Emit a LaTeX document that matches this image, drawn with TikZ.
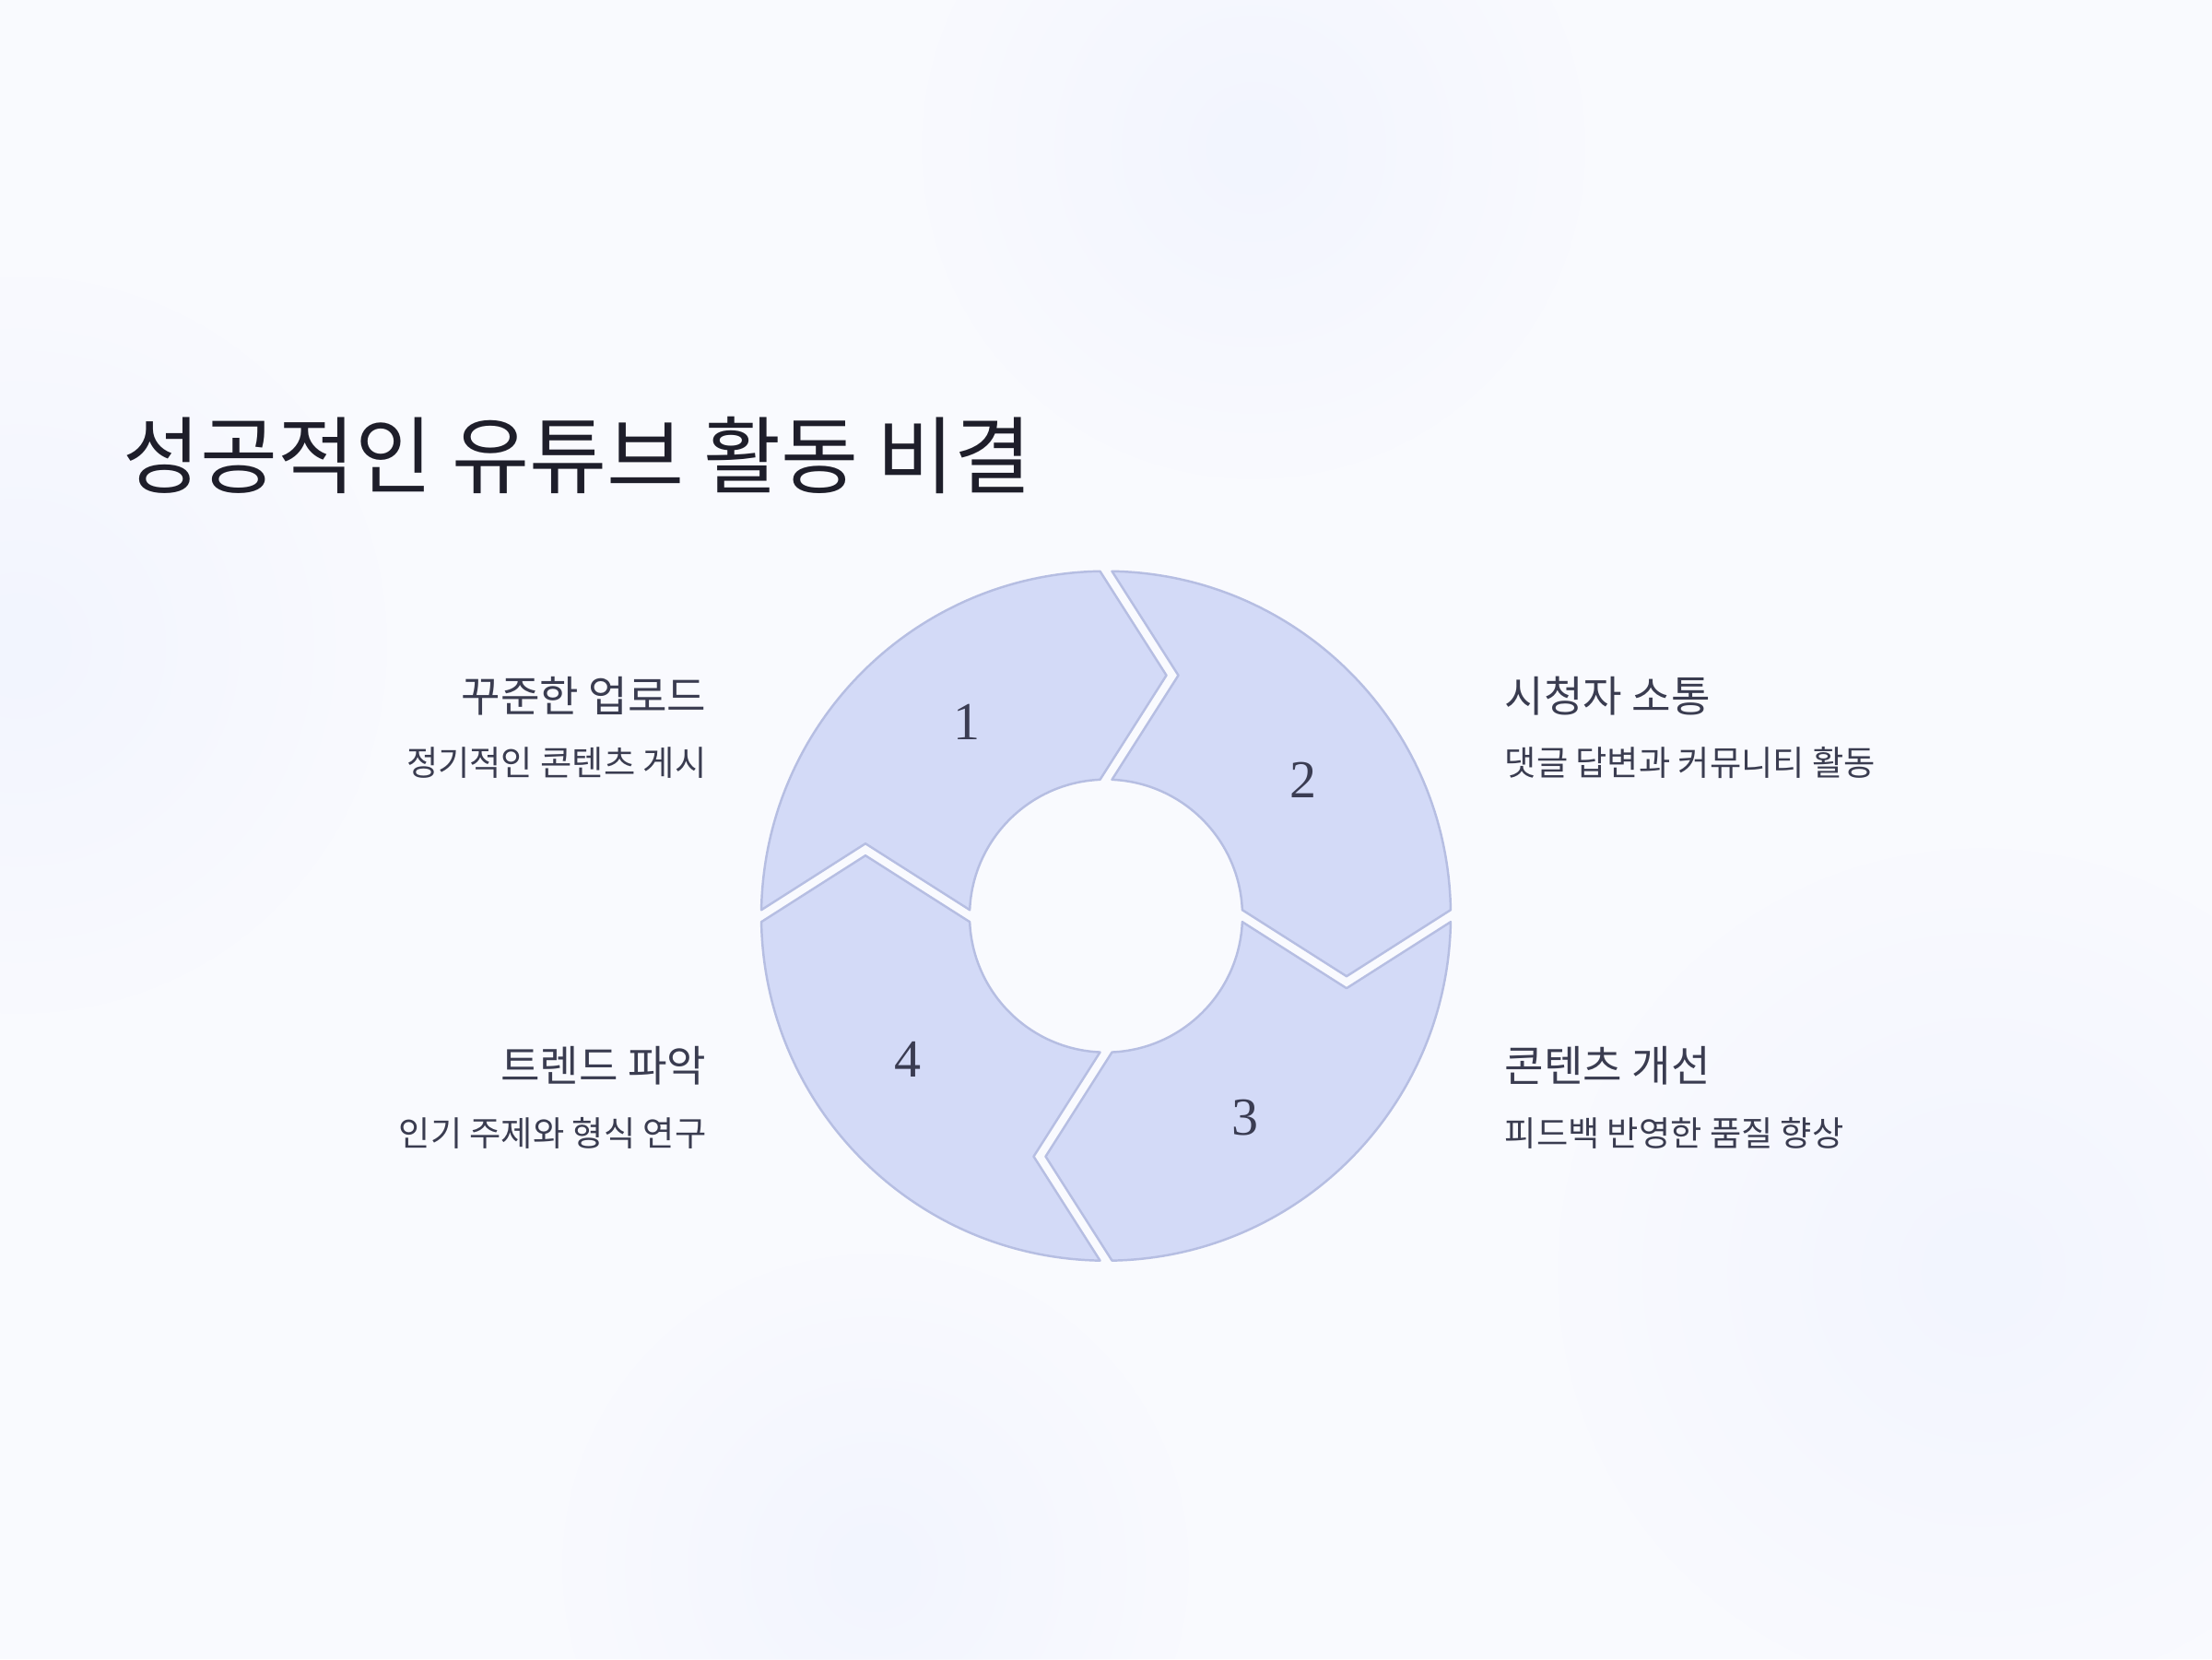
\documentclass[tikz,border=0pt]{standalone}
\usepackage{fontspec}
\usetikzlibrary{fadings}
\newfontfamily\kr{Noto Sans CJK KR}
\newfontfamily\numf{Liberation Serif}
\definecolor{bg}{RGB}{249,250,254}
\definecolor{blob}{RGB}{242,245,254}
\definecolor{segfill}{RGB}{211,218,247}
\definecolor{segdraw}{RGB}{182,190,226}
\definecolor{titlec}{RGB}{30,30,42}
\definecolor{headc}{RGB}{58,60,80}
\definecolor{numc}{RGB}{58,60,82}
\tikzfading[name=blobfade, inner color=transparent!0, outer color=transparent!100]
\tikzset{
  seg/.style={fill=segfill, draw=segdraw, line width=0.7pt, line join=round},
  blobfill/.style={fill=blob, path fading=blobfade},
  numlabel/.style={text=numc, font=\numf\fontsize{16.5}{18}\selectfont, inner sep=0pt},
  titletext/.style={text=titlec, font=\kr\fontsize{26}{28}\selectfont, inner sep=0pt, anchor=west},
  headl/.style={text=headc, font=\kr\fontsize{13.15}{15}\selectfont, inner sep=0pt, anchor=east},
  subl/.style={text=headc, font=\kr\fontsize{10.6}{12}\selectfont, inner sep=0pt, anchor=east},
  headr/.style={text=headc, font=\kr\fontsize{13.15}{15}\selectfont, inner sep=0pt, anchor=west},
  subr/.style={text=headc, font=\kr\fontsize{10.6}{12}\selectfont, inner sep=0pt, anchor=west}
}
\begin{document}
\begin{tikzpicture}
\useasboundingbox (0,0) rectangle (24,18);
\fill[bg] (0,0) rectangle (24,18);
% faint background blobs
\begin{scope}
\clip (0,0) rectangle (24,18);
\fill[blobfill] (13.6,16.4) circle (3.6);
\fill[blobfill] (0.2,11.0) circle (4.0);
\fill[blobfill] (21.5,4.2) circle (4.6);
\fill[blobfill] (9.5,1.0) circle (3.4);
\end{scope}

% title
\node[titletext] (title) at (1.33,13.06) {성공적인 유튜브 활동 비결};

% ring
\begin{scope}[shift={(12.00,8.063)}]
\foreach \a in {180,90,0,-90}{
  \pgfmathsetmacro{\b}{\a-90}
  \draw[seg] (\a-0.996:3.74) arc[start angle=\a-0.996, end angle=\b+0.996, radius=3.74]
    -- (\b-14.09:2.691) -- (\b+2.517:1.48)
    arc[start angle=\b+2.517, end angle=\a-2.517, radius=1.48]
    -- (\a-16.74:2.7255) -- cycle;
}
\node[numlabel] (n1) at (125.7:2.586) {1};
\node[numlabel] (n2) at (34.5:2.596) {2};
\node[numlabel] (n3) at (-55.4:2.66) {3};
\node[numlabel] (n4) at (216:2.656) {4};
\end{scope}

% left labels
\node[headl] (h1) at (7.67,10.45) {꾸준한 업로드};
\node[subl]  (s1) at (7.67,9.72) {정기적인 콘텐츠 게시};
\node[headl] (h4) at (7.67,6.44) {트렌드 파악};
\node[subl]  (s4) at (7.67,5.71) {인기 주제와 형식 연구};
% right labels
\node[headr] (h2) at (16.32,10.45) {시청자 소통};
\node[subr]  (s2) at (16.32,9.72) {댓글 답변과 커뮤니티 활동};
\node[headr] (h3) at (16.32,6.44) {콘텐츠 개선};
\node[subr]  (s3) at (16.32,5.71) {피드백 반영한 품질 향상};
\end{tikzpicture}
\end{document}
